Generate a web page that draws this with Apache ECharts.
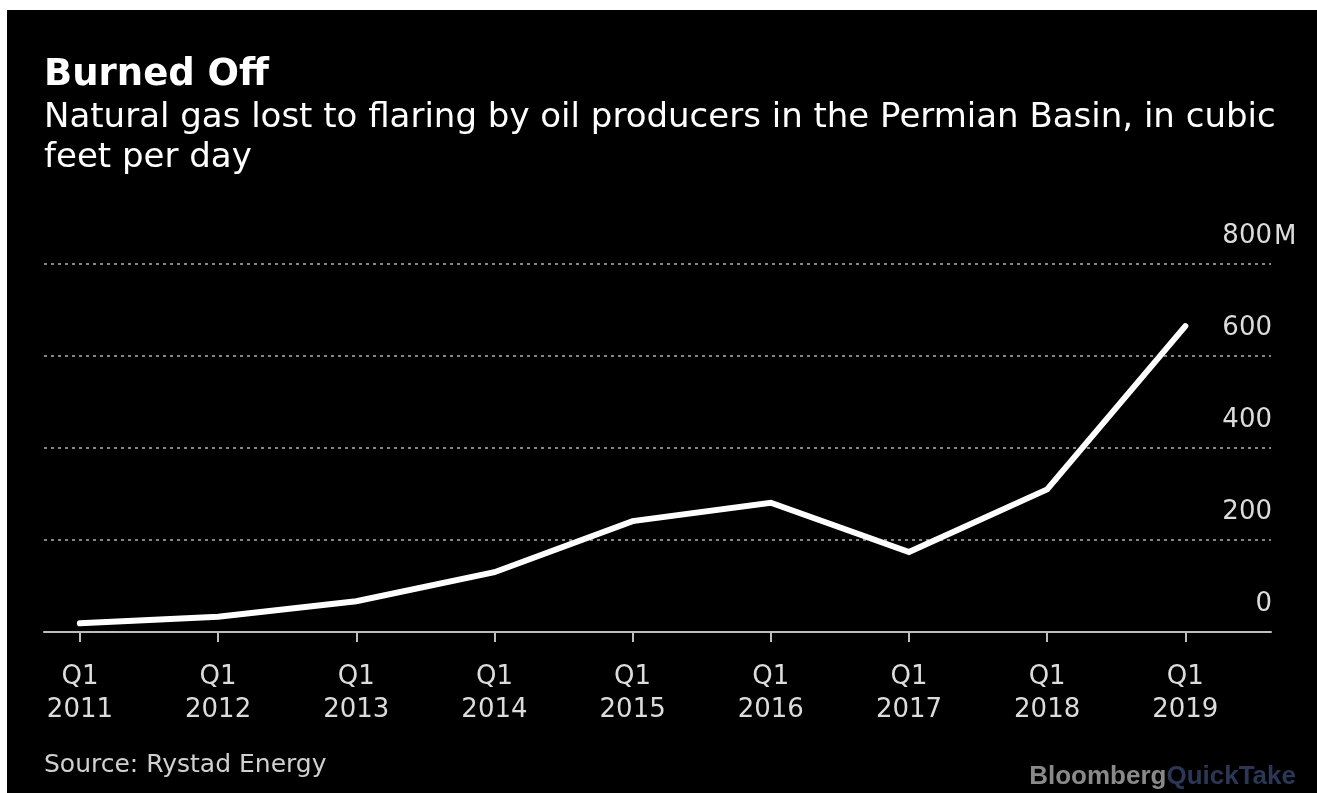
<!DOCTYPE html>
<html><head><meta charset="utf-8">
<script src="https://cdn.jsdelivr.net/npm/echarts@6/dist/echarts.min.js"></script>
<style>
html,body{margin:0;padding:0;background:#fff;width:1317px;height:793px;overflow:hidden;}
#chart{position:absolute;left:7px;top:10px;width:1310px;height:783px;background:#000;}
</style></head><body><div id="chart"></div>
<script>
const categories = ['Q1\n2011','Q1\n2012','Q1\n2013','Q1\n2014','Q1\n2015','Q1\n2016','Q1\n2017','Q1\n2018','Q1\n2019'];
const flaring = [19, 33, 67, 130, 241, 281, 174, 310, 665];
const yTickLabels = ['0','200','400','600','800'];
const yUnit = 'M';
const titleText = 'Burned Off';
const subtitleText = 'Natural gas lost to flaring by oil producers in the Permian Basin, in cubic\nfeet per day';
const sourceText = 'Source: Rystad Energy';

const FF = '"DejaVu Sans", sans-serif';
const chart = echarts.init(document.getElementById('chart'), null, {renderer:'canvas'});
const idx = categories.map((c,i)=>i);
chart.setOption({
  animation:false,
  backgroundColor:'#000',
  title:[
    {text:titleText, subtext:subtitleText, left:37, top:47, padding:0, itemGap:4,
     textStyle:{color:'#fff', fontSize:37, fontWeight:'bold', fontFamily:FF},
     subtextStyle:{color:'#fff', fontSize:34, lineHeight:40, fontFamily:FF}},
    {text:sourceText, left:37, top:743, padding:0,
     textStyle:{color:'#d0d0d0', fontSize:25, fontWeight:'normal', fontFamily:FF}},
    {text:'{a|Bloomberg}{b|QuickTake}', right:21, top:754, padding:0,
     textStyle:{rich:{
       a:{color:'#8a8a8a', fontSize:26, fontWeight:'bold', fontFamily:'"Liberation Sans", Arial, sans-serif'},
       b:{color:'#2c3756', fontSize:26, fontWeight:'bold', fontFamily:'"Liberation Sans", Arial, sans-serif'}}}}
  ],
  grid:{left:37, right:46, top:254, bottom:161, containLabel:false},
  xAxis:{type:'value', min:-0.26, max:8.62,
    axisLine:{show:true, lineStyle:{color:'#bdbdbd', width:2}},
    axisTick:{show:true, customValues:idx, length:10, lineStyle:{color:'#bdbdbd', width:2}},
    axisLabel:{customValues:idx, formatter:v=>categories[Math.round(v)], color:'#dcdcdc', fontSize:26, lineHeight:33, margin:29, fontFamily:FF},
    splitLine:{show:false}},
  yAxis:{type:'value', position:'right', min:0, max:800, interval:200,
    axisLine:{show:false}, axisTick:{show:false},
    axisLabel:{inside:true, margin:-1, color:'#dcdcdc', fontSize:26, fontFamily:FF, verticalAlign:'bottom', lineHeight:56,
      formatter:v=>yTickLabels[Math.round(v/200)]},
    splitLine:{show:true, lineStyle:{color:'#858585', type:[3,4], width:2}}},
  series:[{type:'line', data:flaring.map((v,i)=>[i,v]), showSymbol:false,
    lineStyle:{color:'#fff', width:6, cap:'round', join:'miter'}}]
});
// unit suffix next to the top tick label, placed through the axis scale
const topVal = 800;
const yPix = chart.convertToPixel({yAxisIndex:0}, topVal);
const xRight = chart.getWidth() - 46;
chart.setOption({graphic:[{type:'text', left:xRight + 3, top:yPix - 40, silent:true,
  style:{text:yUnit, fill:'#dcdcdc', fontSize:26, fontFamily:FF}}]});
</script></body></html>
